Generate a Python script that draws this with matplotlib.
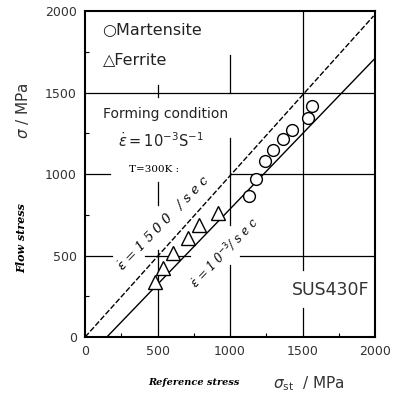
import matplotlib
matplotlib.use('Agg')
from matplotlib import pyplot as plt

plt.rcParams['mathtext.fontset'] = 'dejavusans'

# data
martensite_x = [1134, 1180, 1242, 1299, 1364, 1426, 1541, 1564]
martensite_y = [867, 970, 1078, 1150, 1212, 1273, 1345, 1417]
ferrite_x = [483, 540, 609, 713, 789, 920]
ferrite_y = [338, 422, 515, 607, 689, 761]
# strain rate 1500/sec line (dashed) and 10^-3/sec line (solid)
fast_x = [0, 1990]
fast_y = [0, 1970]
slow_x = [150, 2000]
slow_y = [0, 1710]

ticks = [0, 500, 1000, 1500, 2000]
minor = [250, 750, 1250, 1750]

fig = plt.figure(figsize=(3.96, 3.96), dpi=100)
ax = fig.add_axes([0.215, 0.149, 0.732, 0.823])

# broken grid lines like in the scan
lk = dict(color='black', lw=0.9, zorder=1)
ax.axhline(1500, 0, 1, **lk)
ax.axhline(1000, 0, 0.086, **lk)
ax.axhline(1000, 0.5, 1, **lk)
ax.axhline(500, 0, 0.093, **lk)
ax.axhline(500, 0.207, 0.362, **lk)
ax.axhline(500, 0.534, 1, **lk)
ax.axvline(500, 0, 0.267, **lk)
ax.axvline(500, 0.405, 0.475, **lk)
ax.axvline(500, 0.736, 0.773, **lk)
ax.axvline(1000, 0, 0.22, **lk)
ax.axvline(1000, 0.344, 0.61, **lk)
ax.axvline(1000, 0.748, 0.865, **lk)
ax.axvline(1500, 0, 0.089, **lk)
ax.axvline(1500, 0.206, 1, **lk)

ax.plot(fast_x, fast_y, color='black', lw=1.0, ls=(0, (4, 1.5)))
ax.plot(slow_x, slow_y, color='black', lw=1.0)
ax.plot(martensite_x, martensite_y, 'o', ms=8.5, mfc='white', mec='black', mew=1.0, zorder=3)
ax.plot(ferrite_x, ferrite_y, '^', ms=10, mfc='white', mec='black', mew=1.0, zorder=3)

ax.set_xlim(0, 2000)
ax.set_ylim(0, 2000)
ax.set_xticks(ticks)
ax.set_yticks(ticks)
ax.set_xticks(minor, minor=True)
ax.set_yticks(minor, minor=True)
ax.tick_params(which='major', direction='in', length=0, labelsize=9, labelcolor='#333333', pad=6)
ax.tick_params(which='minor', direction='in', length=3, width=0.8)
for s in ax.spines.values():
    s.set_linewidth(1.5)

ax.text(120, 1880, '○Martensite', fontsize=11.5, color='#222222', va='center')
ax.text(120, 1700, '△Ferrite', fontsize=11.5, color='#222222', va='center')
ax.text(120, 1370, 'Forming condition', fontsize=10, color='#222222', va='center')
ax.text(230, 1205, r'$\dot{\varepsilon}=10^{-3}$S$^{-1}$', fontsize=10.5, color='#222222', va='center')
ax.text(300, 1025, 'T=300K :', fontsize=7.5, family='DejaVu Serif', va='center')
ax.text(540, 700, r'$\dot{\varepsilon}$ = 1 5 0 0   / s e c', fontsize=9.5, family='DejaVu Serif',
        style='italic', rotation=46, ha='center', va='center')
ax.text(960, 515, r'$\dot{\varepsilon}$ = 1 0$^{-3}$/ s e c', fontsize=8.5, family='DejaVu Serif',
        style='italic', rotation=46, ha='center', va='center')
ax.text(1960, 290, 'SUS430F', fontsize=12.5, color='#333333', ha='right', va='center')

fig.text(0.056, 0.72, r'$\sigma$ / MPa', rotation=90, fontsize=11, ha='center', va='center', color='#333333')
fig.text(0.056, 0.40, 'Flow stress', rotation=90, fontsize=8, family='DejaVu Serif',
         style='italic', weight='bold', ha='center', va='center')
fig.text(0.49, 0.033, 'Reference stress', fontsize=7, family='DejaVu Serif',
         style='italic', weight='bold', ha='center', va='center')
fig.text(0.78, 0.03, r'$\sigma_{\rm st}$  / MPa', fontsize=11, ha='center', va='center', color='#333333')

fig.savefig('out.png', dpi=100)
